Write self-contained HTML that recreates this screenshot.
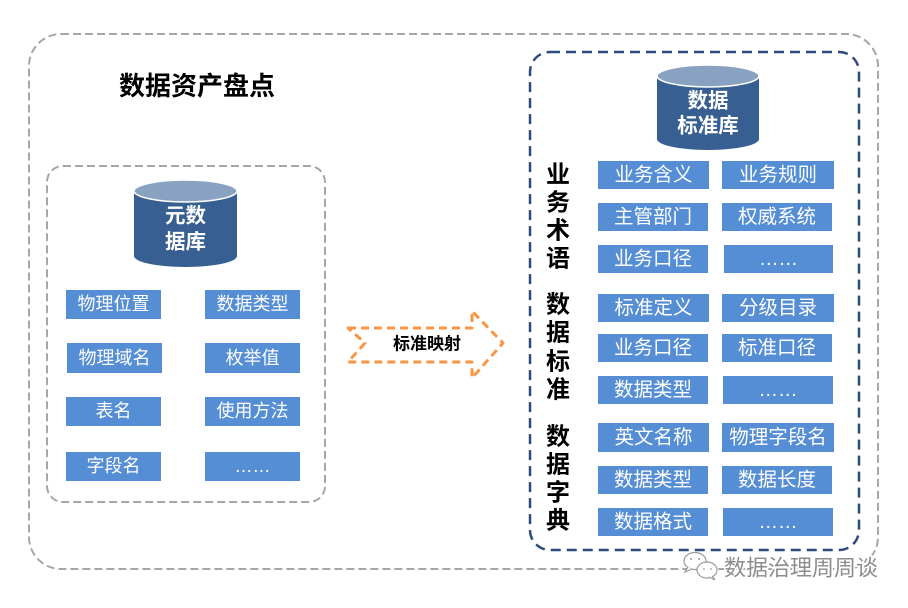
<!DOCTYPE html>
<html>
<head>
<meta charset="utf-8">
<style>
html,body{margin:0;padding:0;background:#fff;}
body{width:908px;height:608px;overflow:hidden;}
svg{display:block;}
.bx{fill:#558ed5;}
.lt{font-family:"Liberation Sans","Noto Sans CJK SC",sans-serif;font-size:18px;fill:#fff;text-anchor:middle;dominant-baseline:central;}
.rt{font-family:"Liberation Sans","Noto Sans CJK SC",sans-serif;font-size:19.5px;fill:#fff;text-anchor:middle;dominant-baseline:central;}
.vt{font-family:"Liberation Sans","Noto Sans CJK SC",sans-serif;font-size:24px;font-weight:bold;fill:#000;text-anchor:middle;dominant-baseline:central;}
.ct{font-family:"Liberation Sans","Noto Sans CJK SC",sans-serif;font-size:20.5px;font-weight:bold;fill:#fff;text-anchor:middle;dominant-baseline:central;}
</style>
</head>
<body>
<svg width="908" height="608" viewBox="0 0 908 608" xmlns="http://www.w3.org/2000/svg">
  <!-- outer gray dashed box -->
  <rect x="29" y="34" width="849" height="535" rx="32" ry="32" fill="none" stroke="#a6a6a6" stroke-width="2" stroke-dasharray="8 4"/>
  <!-- title -->
  <text x="197" y="86" font-family="Liberation Sans, Noto Sans CJK SC, sans-serif" font-size="26" font-weight="bold" fill="#000" text-anchor="middle" dominant-baseline="central">数据资产盘点</text>

  <!-- left inner box -->
  <rect x="47" y="166" width="278" height="336" rx="16" ry="16" fill="none" stroke="#a6a6a6" stroke-width="2" stroke-dasharray="8 4"/>

  <!-- left cylinder -->
  <path d="M134 191 L134 256 A51.5 11 0 0 0 237 256 L237 191 Z" fill="#375f91"/>
  <ellipse cx="185.5" cy="191" rx="51.5" ry="11" fill="#8aa2c2" stroke="#ffffff" stroke-width="1.5"/>
  <text class="ct" x="185.5" y="216">元数</text>
  <text class="ct" x="185.5" y="242">据库</text>

  <!-- left boxes -->
  <rect class="bx" x="66" y="290" width="95" height="29"/>
  <rect class="bx" x="205" y="290" width="95" height="29"/>
  <rect class="bx" x="67" y="343" width="95" height="30"/>
  <rect class="bx" x="205" y="343" width="95" height="30"/>
  <rect class="bx" x="66" y="397" width="95" height="29"/>
  <rect class="bx" x="205" y="397" width="95" height="29"/>
  <rect class="bx" x="66" y="452" width="95" height="29"/>
  <rect class="bx" x="205" y="452" width="95" height="29"/>
  <text class="lt" x="113.5" y="304">物理位置</text>
  <text class="lt" x="252.5" y="304">数据类型</text>
  <text class="lt" x="114.5" y="358">物理域名</text>
  <text class="lt" x="252.5" y="358">枚举值</text>
  <text class="lt" x="113.5" y="411">表名</text>
  <text class="lt" x="252.5" y="411">使用方法</text>
  <text class="lt" x="113.5" y="466">字段名</text>
  <text class="lt" x="252.5" y="466">……</text>

  <!-- arrow -->
  <path d="M348 328 L472 328 L472 311 L503 343 L472 378 L472 362 L348 362 L365 343 Z" fill="none" stroke="#f79646" stroke-width="3" stroke-dasharray="8 5" stroke-linejoin="round"/>
  <text x="427" y="344" font-family="Liberation Sans, Noto Sans CJK SC, sans-serif" font-size="17" font-weight="bold" fill="#000" text-anchor="middle" dominant-baseline="central">标准映射</text>

  <!-- right blue dashed box -->
  <rect x="530" y="52" width="329" height="498" rx="20" ry="20" fill="none" stroke="#2f4a7f" stroke-width="2.5" stroke-dasharray="10 6"/>

  <!-- right cylinder -->
  <path d="M657 76 L657 139 A51 11 0 0 0 759 139 L759 76 Z" fill="#375f91"/>
  <ellipse cx="708" cy="76" rx="51" ry="11" fill="#8aa2c2" stroke="#ffffff" stroke-width="1.5"/>
  <text class="ct" x="708" y="101">数据</text>
  <text class="ct" x="708" y="126">标准库</text>

  <!-- vertical labels -->
  <text class="vt" x="558" y="175">业</text>
  <text class="vt" x="558" y="203">务</text>
  <text class="vt" x="558" y="231">术</text>
  <text class="vt" x="558" y="259">语</text>
  <text class="vt" x="558" y="305">数</text>
  <text class="vt" x="558" y="333">据</text>
  <text class="vt" x="558" y="362">标</text>
  <text class="vt" x="558" y="390">准</text>
  <text class="vt" x="558" y="437">数</text>
  <text class="vt" x="558" y="465">据</text>
  <text class="vt" x="558" y="493">字</text>
  <text class="vt" x="558" y="521">典</text>

  <!-- right boxes -->
  <rect class="bx" x="598" y="161" width="111" height="28"/>
  <rect class="bx" x="722" y="161" width="112" height="28"/>
  <rect class="bx" x="598" y="203" width="110" height="28"/>
  <rect class="bx" x="722" y="203" width="110" height="28"/>
  <rect class="bx" x="598" y="245" width="110" height="28"/>
  <rect class="bx" x="724" y="245" width="109" height="28"/>
  <rect class="bx" x="598" y="294" width="111" height="28"/>
  <rect class="bx" x="722" y="294" width="112" height="28"/>
  <rect class="bx" x="598" y="334" width="110" height="28"/>
  <rect class="bx" x="722" y="334" width="110" height="28"/>
  <rect class="bx" x="598" y="376" width="110" height="28"/>
  <rect class="bx" x="723" y="376" width="110" height="28"/>
  <rect class="bx" x="598" y="423" width="111" height="29"/>
  <rect class="bx" x="722" y="423" width="112" height="29"/>
  <rect class="bx" x="598" y="466" width="110" height="28"/>
  <rect class="bx" x="722" y="466" width="110" height="28"/>
  <rect class="bx" x="598" y="508" width="110" height="28"/>
  <rect class="bx" x="723" y="508" width="110" height="28"/>

  <text class="rt" x="653.5" y="175">业务含义</text>
  <text class="rt" x="778" y="175">业务规则</text>
  <text class="rt" x="653" y="217">主管部门</text>
  <text class="rt" x="777" y="217">权威系统</text>
  <text class="rt" x="653" y="259">业务口径</text>
  <text class="rt" x="778.5" y="259">……</text>
  <text class="rt" x="653.5" y="308">标准定义</text>
  <text class="rt" x="778" y="308">分级目录</text>
  <text class="rt" x="653" y="348">业务口径</text>
  <text class="rt" x="777" y="348">标准口径</text>
  <text class="rt" x="653" y="390">数据类型</text>
  <text class="rt" x="778" y="390">……</text>
  <text class="rt" x="653.5" y="437.5">英文名称</text>
  <text class="rt" x="778" y="437.5">物理字段名</text>
  <text class="rt" x="653" y="480">数据类型</text>
  <text class="rt" x="777" y="480">数据长度</text>
  <text class="rt" x="653" y="522">数据格式</text>
  <text class="rt" x="778" y="522">……</text>

  <!-- watermark -->
  <g fill="#fff" stroke="#9a9a9a" stroke-width="1.2">
    <ellipse cx="695" cy="561" rx="11" ry="8.5"/>
    <path d="M688 567 L685 572 L692 569" />
    <ellipse cx="707" cy="570" rx="10" ry="8"/>
    <path d="M712 576 L715 580 L709 577" />
  </g>
  <g fill="#9a9a9a">
    <circle cx="691" cy="559" r="1"/><circle cx="699" cy="559" r="1"/>
    <circle cx="704" cy="569" r="0.9"/><circle cx="711" cy="569" r="0.9"/>
  </g>
  <text x="801" y="568" font-family="Liberation Sans, Noto Sans CJK SC, sans-serif" font-size="22" fill="#8c8c8c" stroke="#ffffff" stroke-width="3" paint-order="stroke" text-anchor="middle" dominant-baseline="central">数据治理周周谈</text>
</svg>
</body>
</html>
